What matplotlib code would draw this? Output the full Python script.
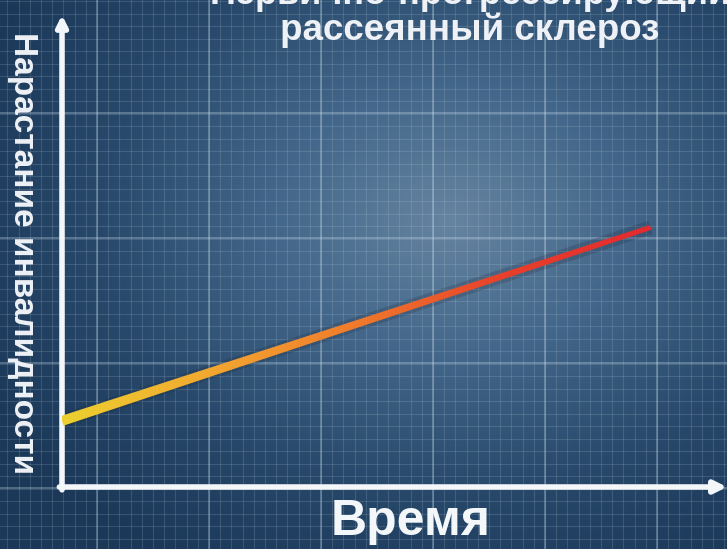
import numpy as np
import matplotlib
matplotlib.use('Agg')
import matplotlib.pyplot as plt
from matplotlib.colors import LinearSegmentedColormap
from matplotlib.patches import Polygon
from matplotlib.transforms import IdentityTransform

plt.rcParams['font.family'] = ['Liberation Sans', 'DejaVu Sans']

# данные: прогрессирование инвалидности во времени
TIME = [0.0, 8.85]
DISABILITY = [1.4, 5.5]

TITLE_1 = 'Первично-прогрессирующий'
TITLE_2 = 'рассеянный склероз'
XLABEL = 'Время'
YLABEL = 'Нарастание инвалидности'

W, H = 727, 549
fig = plt.figure(figsize=(W / 100, H / 100), dpi=100)

# ── фон: радиальный градиент + сетка ──
bg = fig.add_axes([0, 0, 1, 1])
yy, xx = np.mgrid[0:H, 0:W]
r = np.sqrt(((xx - 450) / 520) ** 2 + ((yy - 220) / 400) ** 2)
bg_cmap = LinearSegmentedColormap.from_list('bg', ['#6584a0', '#43678a', '#28496b', '#1b3858'])
bg.imshow(np.clip(r, 0, 1), cmap=bg_cmap, extent=(0, W, H, 0), aspect='auto', interpolation='bilinear')
for x in np.arange(-15, W, 11.2):
    bg.axvline(x, color='#c8dcec', lw=0.8, alpha=0.16)
for y in np.arange(1, H, 12.5):
    bg.axhline(y, color='#c8dcec', lw=0.8, alpha=0.16)
for x in np.arange(97, W, 112):
    bg.axvline(x, color='#d8e8f4', lw=1.3, alpha=0.32)
for y in np.arange(113, H, 125):
    bg.axhline(y, color='#d8e8f4', lw=1.3, alpha=0.32)
bg.set_xlim(0, W)
bg.set_ylim(H, 0)
bg.axis('off')

# ── основная ось ──
ax = fig.add_axes([62 / W, (H - 487) / H, (W - 62) / W, (487 - 15) / H])
ax.patch.set_alpha(0)
ax.set_xlim(0, 10)
ax.set_ylim(0, 10)
for s in ax.spines.values():
    s.set_visible(False)
ax.set_xticks([])
ax.set_yticks([])

# стрелки осей
ax.annotate('', xy=(1.0, 0), xytext=(-0.004, 0), xycoords='axes fraction',
            arrowprops=dict(arrowstyle='-|>', lw=4, color='#f4f7fa', mutation_scale=18,
                            shrinkA=0, shrinkB=0))
ax.annotate('', xy=(0, 1.0), xytext=(0, -0.006), xycoords='axes fraction',
            arrowprops=dict(arrowstyle='-|>', lw=4, color='#f4f7fa', mutation_scale=16,
                            shrinkA=0, shrinkB=0))

# линия прогрессирования: тень + сужающаяся полоса с градиентом
ax.plot(TIME, DISABILITY, color='#1a2030', lw=10, alpha=0.2, solid_capstyle='butt', zorder=2)
fig.canvas.draw()
p0, p1 = ax.transData.transform(list(zip(TIME, DISABILITY)))
d = (p1 - p0) / np.hypot(*(p1 - p0))
n = np.array([-d[1], d[0]])
w0, w1 = 5.0, 2.5
poly = Polygon([p0 + n * w0, p1 + n * w1, p1 - n * w1, p0 - n * w0],
               closed=True, transform=IdentityTransform(), facecolor='none', edgecolor='none')
ax.add_patch(poly)
line_cmap = LinearSegmentedColormap.from_list('ln', ['#ecd030', '#f2a830', '#f07a2c', '#e8402a', '#e42a30'])
grad = np.linspace(0, 1, 256).reshape(1, -1)
im = ax.imshow(grad, cmap=line_cmap, extent=(TIME[0], TIME[1], DISABILITY[0] - 0.5, DISABILITY[1] + 0.5),
               aspect='auto', zorder=3, interpolation='bilinear')
im.set_clip_path(poly)
ax.set_xlim(0, 10)
ax.set_ylim(0, 10)

# подписи
fig.text(470 / W, 1 - (-6) / H, TITLE_1, ha='center', va='center', fontsize=26,
         fontweight='bold', color='#eef2f6')
fig.text(470 / W, 1 - 30 / H, TITLE_2, ha='center', va='center', fontsize=26.5,
         fontweight='bold', color='#eef2f6')
fig.text(411 / W, 1 - 522 / H, XLABEL, ha='center', va='center', fontsize=36,
         fontweight='bold', color='#f4f7fa')
fig.text(22 / W, 1 - 253 / H, YLABEL, ha='center', va='center', rotation=270,
         fontsize=24, fontweight='bold', color='#eef2f6')

fig.savefig('out.png', dpi=100)
